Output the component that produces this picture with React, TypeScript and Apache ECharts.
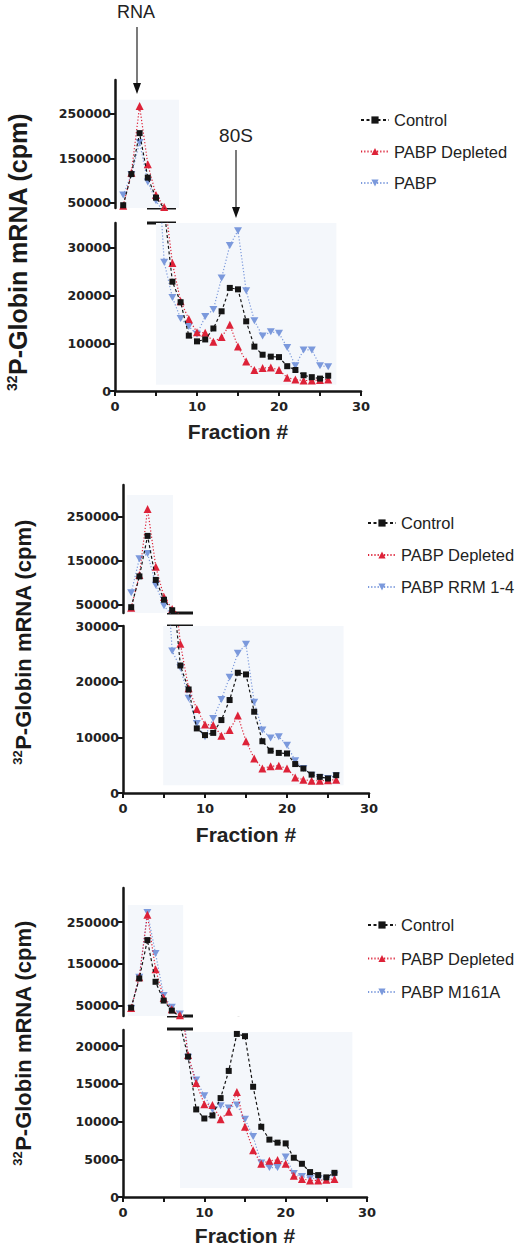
import React, { useEffect, useRef } from "react";
import * as echarts from "echarts";

// ---------- data ----------
const fractions = [1, 2, 3, 4, 5, 6, 7, 8, 9, 10, 11, 12, 13, 14, 15, 16, 17, 18, 19, 20, 21, 22, 23, 24, 25, 26];
const control = [45000, 115000, 207000, 107000, 62000, 38000, 22900, 18600, 11600, 10400, 10800, 13100, 16700, 21600, 21300, 14600, 9300, 7600, 7200, 7100, 5200, 4400, 3300, 2900, 2600, 3200];
const pabpDepleted = [44000, 118000, 268000, 137000, 68000, 41000, 26800, 18800, 15100, 12300, 12200, 10300, 11300, 13900, 9300, 6200, 4400, 4800, 4900, 4400, 2800, 2400, 2200, 2200, 2300, 2400];
const pabp = [68000, 114000, 186000, 97000, 55000, 27000, 19600, 15200, 13500, 11900, 15600, 17100, 23700, 30500, 33600, 21000, 14700, 11500, 12400, 12100, 9100, 5300, 8600, 8600, 5300, 5100];
const pabpRrm14 = [78000, 155000, 167000, 95000, 48000, 25500, 22500, 17000, 12500, 10100, 13400, 16800, 20800, 25100, 26700, 16300, 11300, 9900, 10100, 8600, 5800, 4400, 3200, 2800, 2600, 3100];
const pabpM161A = [43000, 118000, 273000, 175000, 74000, 46000, 30000, 18500, 15500, 13400, 11600, 12100, 11800, 12200, 10300, 8000, 4500, 3900, 3900, 5300, 3100, 2700, 2500, 2400, 2400, 2900];

const seriesNames = ["Control", "PABP Depleted"];
const rescueNames = ["PABP", "PABP RRM 1-4", "PABP M161A"];
const upperTicks = [50000, 150000, 250000];
const lowerTicks1 = [0, 10000, 20000, 30000];
const lowerTicks2 = [0, 10000, 20000, 30000];
const lowerTicks3 = [0, 5000, 10000, 15000, 20000];
const xTickLabels = [0, 10, 20, 30];
const yTitleMain = "P-Globin mRNA (cpm)";
const yTitleSup = "32";
const xTitle = "Fraction #";

// ---------- layout ----------
const FONT = "'Liberation Sans', Arial, Helvetica, sans-serif";
const NUMFONT = "'DejaVu Sans', 'Liberation Sans', sans-serif";
const INK = "#151515";
const BG = "#f4f7fb";

const panels = [
  {
    rescue: pabp, rescueName: rescueNames[0],
    upper: { left: 115, top: 80, width: 246, height: 128, min: 38760, max: 326400, bg: [[0.3, 38760], [7.8, 282000]] },
    lower: { left: 115, top: 223, width: 246, height: 168, min: 0, max: 35200, ticks: lowerTicks1, bg: [[5, 1300], [27, 35200]], nameGap: 30 },
    breakX: [147, 176], breakY: [208, 223],
    legend: { left: 360, top: 111, gap: 13.5 },
    yTitle: { x: 18, y: 252, size: 25, sup: 14 },
  },
  {
    rescue: pabpRrm14, rescueName: rescueNames[1],
    upper: { left: 123, top: 485, width: 246, height: 128, min: 31800, max: 322700, bg: [[0.5, 31800], [6.1, 300000]] },
    lower: { left: 123, top: 626, width: 246, height: 167, min: 0, max: 30000, ticks: lowerTicks2, bg: [[4.9, 1400], [26.9, 30000]], nameGap: 31 },
    breakX: [167, 193], breakY: [613, 626],
    legend: { left: 367, top: 514, gap: 14 },
    yTitle: { x: 23, y: 642, size: 22, sup: 13 },
  },
  {
    rescue: pabpM161A, rescueName: rescueNames[2],
    upper: { left: 123, top: 888, width: 244, height: 128, min: 25000, max: 331900, bg: [[0.6, 25000], [7.4, 291000]] },
    lower: { left: 123, top: 1030, width: 244, height: 167, min: 0, max: 22120, ticks: lowerTicks3, bg: [[7, 1200], [28.2, 21850]], nameGap: 28 },
    breakX: [167, 193], breakY: [1016, 1029],
    legend: { left: 367, top: 916, gap: 15.5 },
    yTitle: { x: 23, y: 1043, size: 22, sup: 13 },
  },
];

const toPairs = (vals: number[]) => fractions.map((f, i) => [f, vals[i]]);

const styles: Record<string, any> = {
  control: { color: INK, symbol: "rect", symbolSize: 6, lineType: [3, 2.5] },
  depleted: { color: "#dd2238", symbol: "triangle", symbolSize: 8, lineType: [1.2, 2] },
  rescue: { color: "#7b99dc", symbol: "path://M0,0L10,0L5,9Z", symbolSize: [8, 7], lineType: [1.2, 2] },
};

function makeSeries(name: string, vals: number[], kind: string, idx: number, bg?: number[][]) {
  const s = styles[kind];
  const out: any = {
    type: "line",
    name,
    xAxisIndex: idx,
    yAxisIndex: idx,
    data: toPairs(vals),
    symbol: s.symbol,
    symbolSize: s.symbolSize,
    showAllSymbol: true,
    clip: true,
    itemStyle: { color: s.color },
    lineStyle: { color: s.color, width: 1.2, type: s.lineType },
    emphasis: { disabled: true },
    z: kind === "control" ? 5 : kind === "depleted" ? 4 : 3,
  };
  if (bg) {
    out.markArea = {
      silent: true,
      itemStyle: { color: BG },
      data: [[{ coord: bg[0] }, { coord: bg[1] }]],
    };
  }
  return out;
}

export default function App() {
  const ref = useRef<HTMLDivElement>(null);
  useEffect(() => {
    if (!ref.current) return;
    const chart = echarts.init(ref.current, null, { renderer: "svg" });

    const grids: any[] = [];
    const xAxes: any[] = [];
    const yAxes: any[] = [];
    const series: any[] = [];
    const legends: any[] = [];
    const graphics: any[] = [];

    const axisLine = { show: true, onZero: false, lineStyle: { color: INK, width: 2.5 } };
    const axisTickBase = { show: true, length: 5, lineStyle: { color: INK, width: 2 } };
    const labelBase = { fontFamily: NUMFONT, fontWeight: "bold", fontSize: 12.5, color: "#222", formatter: (v: number) => String(v) };

    panels.forEach((p, pi) => {
      const parts = [p.upper, p.lower];
      parts.forEach((g: any, gi) => {
        const idx = pi * 2 + gi;
        grids.push({ left: g.left, top: g.top, width: g.width, height: g.height, containLabel: false, outerBoundsMode: "none" });
        if (gi === 0) {
          xAxes.push({ gridIndex: idx, type: "value", min: 0, max: 30, show: false });
          yAxes.push({
            gridIndex: idx, type: "value", min: g.min, max: g.max,
            axisLine, splitLine: { show: false },
            axisTick: { ...axisTickBase, customValues: upperTicks },
            axisLabel: { ...labelBase, margin: 4, customValues: upperTicks },
          });
        } else {
          xAxes.push({
            gridIndex: idx, type: "value", min: 0, max: 30, interval: 5,
            axisLine, splitLine: { show: false },
            axisTick: axisTickBase,
            axisLabel: { ...labelBase, fontSize: 13, margin: 9, customValues: xTickLabels },
            name: xTitle, nameLocation: "middle", nameGap: g.nameGap,
            nameTextStyle: { fontFamily: FONT, fontWeight: "bold", fontSize: 21, color: "#222", verticalAlign: "top" },
          });
          yAxes.push({
            gridIndex: idx, type: "value", min: g.min, max: g.max,
            axisLine, splitLine: { show: false },
            axisTick: { ...axisTickBase, customValues: g.ticks },
            axisLabel: { ...labelBase, margin: 4, customValues: g.ticks },
          });
        }
        series.push(makeSeries(p.rescueName, p.rescue, "rescue", idx, g.bg));
        series.push(makeSeries(seriesNames[1], pabpDepleted, "depleted", idx));
        series.push(makeSeries(seriesNames[0], control, "control", idx));
      });

      legends.push({
        orient: "vertical",
        left: p.legend.left,
        top: p.legend.top,
        padding: 0,
        itemGap: p.legend.gap,
        itemWidth: 28,
        itemHeight: 9,
        selectedMode: false,
        data: [seriesNames[0], seriesNames[1], p.rescueName],
        textStyle: { fontFamily: FONT, fontSize: 16.5, color: "#222", lineHeight: 18 },
      });

      // axis breaks
      p.breakY.forEach((by) => {
        graphics.push({
          type: "line", silent: true,
          shape: { x1: p.breakX[0], y1: by, x2: p.breakX[1], y2: by },
          style: { stroke: INK, lineWidth: 3 },
        });
      });

      // y title
      graphics.push({
        type: "text",
        x: p.yTitle.x, y: p.yTitle.y, rotation: Math.PI / 2,
        style: {
          text: `{s|${yTitleSup}}{m|${yTitleMain}}`,
          align: "center", verticalAlign: "middle",
          fill: "#1a1a1a",
          rich: {
            s: { fontFamily: FONT, fontWeight: "bold", fontSize: p.yTitle.sup, fill: "#1a1a1a", verticalAlign: "top", lineHeight: p.yTitle.size + 2 },
            m: { fontFamily: FONT, fontWeight: "bold", fontSize: p.yTitle.size, fill: "#1a1a1a", lineHeight: p.yTitle.size + 2 },
          },
        },
      });
    });

    // annotations
    graphics.push(
      { type: "text", x: 136, y: 12, style: { text: "RNA", font: `18px ${FONT}`, fill: "#222", align: "center", verticalAlign: "middle" } },
      { type: "line", shape: { x1: 137, y1: 27, x2: 137, y2: 86 }, style: { stroke: "#222", lineWidth: 1.2 } },
      { type: "polygon", shape: { points: [[133, 83], [141, 83], [137, 94]] }, style: { fill: "#111" } },
      { type: "text", x: 236, y: 135, style: { text: "80S", font: `19px ${FONT}`, fill: "#222", align: "center", verticalAlign: "middle" } },
      { type: "line", shape: { x1: 236, y1: 150, x2: 236, y2: 210 }, style: { stroke: "#222", lineWidth: 1.2 } },
      { type: "polygon", shape: { points: [[232, 207], [240, 207], [236, 218]] }, style: { fill: "#111" } },
    );

    chart.setOption({
      animation: false,
      backgroundColor: "#ffffff",
      grid: grids,
      xAxis: xAxes,
      yAxis: yAxes,
      legend: legends,
      series,
      graphic: { elements: graphics },
    });
    return () => chart.dispose();
  }, []);
  return <div ref={ref} style={{ position: "absolute", left: 0, top: 0, width: 517, height: 1248 }} />;
}
